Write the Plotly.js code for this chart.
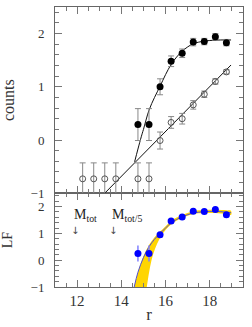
<!DOCTYPE html>
<html>
<head>
<meta charset="utf-8">
<script src="https://cdn.plot.ly/plotly-3.0.1.min.js"></script>
<style>html,body{margin:0;padding:0;background:#fff}#chart{width:252px;height:327px}</style>
</head>
<body>
<div id="chart"></div>
<script>
// ---- data ----
var rBins = [14.75, 15.25, 15.75, 16.25, 16.75, 17.25, 17.75, 18.25, 18.75];
var countsFilled = [0.29, 0.29, 1.00, 1.48, 1.63, 1.84, 1.85, 1.94, 1.83];
var countsFilledErr = [0.30, 0.30, 0.15, 0.10, 0.08, 0.07, 0.06, 0.06, 0.06];

var rOpen = [12.25, 12.75, 13.25, 13.75, 14.75, 15.25, 15.75, 16.25, 16.75, 17.25, 17.75, 18.25, 18.75];
var countsOpen = [-0.73, -0.73, -0.73, -0.73, -0.73, -0.73, -0.01, 0.33, 0.40, 0.66, 0.86, 1.10, 1.28];
var countsOpenErr = [0.30, 0.30, 0.30, 0.30, 0.30, 0.30, 0.16, 0.11, 0.10, 0.08, 0.06, 0.05, 0.04];

var rFitLine = [13.25, 18.96];
var countsFitLine = [-1.0, 1.41];

var rFitCurve = [14.6, 14.75, 14.9, 15.0, 15.25, 15.5, 15.75, 16.0, 16.25, 16.5, 16.75, 17.0, 17.25, 17.5, 17.75, 18.0, 18.5, 18.96];
var countsFitCurve = [-0.41, -0.17, 0.06, 0.20, 0.56, 0.80, 1.01, 1.23, 1.42, 1.56, 1.67, 1.75, 1.81, 1.84, 1.86, 1.87, 1.88, 1.88];

var lf = [0.25, 0.25, 0.95, 1.46, 1.61, 1.83, 1.82, 1.89, 1.70];
var lfErr = [0.30, 0.30, 0.08, 0.06, 0.05, 0.04, 0.04, 0.04, 0.04];

var rLfFit = [14.58, 14.75, 15.0, 15.25, 15.5, 15.75, 16.0, 16.25, 16.5, 16.75, 17.0, 17.25, 17.5, 17.75, 18.0, 18.25, 18.5, 18.75, 18.96];
var lfFit = [-1.0, -0.45, 0.10, 0.50, 0.78, 1.00, 1.20, 1.39, 1.52, 1.62, 1.70, 1.76, 1.79, 1.81, 1.82, 1.82, 1.81, 1.79, 1.77];

var rBandHi = [14.58, 14.75, 15.0, 15.25, 15.5, 15.75, 16.0, 16.25, 16.5, 16.75, 17.25, 17.75, 18.25, 18.75, 18.96];
var lfBandHi = [-1.0, -0.45, 0.15, 0.57, 0.86, 1.07, 1.27, 1.46, 1.59, 1.69, 1.83, 1.87, 1.88, 1.86, 1.84];
var rBandLo = [18.96, 18.75, 18.25, 17.75, 17.25, 16.75, 16.25, 15.83, 15.43, 15.15];
var lfBandLo = [1.69, 1.72, 1.76, 1.76, 1.72, 1.57, 1.33, 0.94, 0.20, -1.0];

var xTickVals = [12, 14, 16, 18];
var xTickText = ['12', '14', '16', '18'];
var yTickVals = [-1, 0, 1, 2];
var yTickText = ['\u22121', '0', '1', '2'];

var marks = [
  {x: 11.78, y: 1.66, text: 'M<sub>tot</sub>'},
  {x: 13.50, y: 1.66, text: 'M<sub>tot/5</sub>'}
];
var arrowsX = [11.92, 13.64];

// ---- styles ----
var serif = 'Liberation Serif, Times New Roman, serif';
var axisCommon = {
  showgrid: false, zeroline: false, showline: true, linecolor: '#666', linewidth: 1,
  mirror: 'allticks', ticks: 'inside', tickcolor: '#777', tickwidth: 1
};
function xAxis(extra) {
  return Object.assign({}, axisCommon, {
    range: [11, 19.5], tickmode: 'array', tickvals: xTickVals, ticktext: xTickText, ticklen: 7,
    minor: {dtick: 0.5, tick0: 0, ticklen: 4, ticks: 'inside', tickcolor: '#777'},
    tickfont: {family: serif, size: 15, color: '#333'}
  }, extra);
}
function yAxis(extra) {
  return Object.assign({}, axisCommon, {
    range: [-1, 2.5], tickmode: 'array', tickvals: yTickVals, ticktext: yTickText, ticklen: 7,
    minor: {dtick: 0.2, tick0: 0, ticklen: 4, ticks: 'inside', tickcolor: '#777'},
    tickfont: {family: serif, size: 13, color: '#333'}, ticklabelstandoff: 7
  }, extra);
}

var traces = [
  // top panel
  {x: rFitLine, y: countsFitLine, mode: 'lines', line: {color: '#111', width: 1}, xaxis: 'x2', yaxis: 'y2', hoverinfo: 'skip'},
  {x: rFitCurve, y: countsFitCurve, mode: 'lines', line: {color: '#111', width: 1, shape: 'spline'}, xaxis: 'x2', yaxis: 'y2', hoverinfo: 'skip'},
  {x: rOpen, y: countsOpen, mode: 'markers', xaxis: 'x2', yaxis: 'y2',
   marker: {symbol: 'circle-open', size: 6, color: '#555', line: {width: 1, color: '#555'}},
   error_y: {type: 'data', array: countsOpenErr, color: '#888', thickness: 1, width: 3}},
  {x: rBins, y: countsFilled, mode: 'markers', xaxis: 'x2', yaxis: 'y2',
   marker: {symbol: 'circle', size: 7, color: '#000'},
   error_y: {type: 'data', array: countsFilledErr, color: '#888', thickness: 1, width: 3}},
  // bottom panel
  {x: rBandHi.concat(rBandLo), y: lfBandHi.concat(lfBandLo), mode: 'lines', fill: 'toself',
   fillcolor: '#ffd500', line: {width: 0, color: '#ffd500', shape: 'spline'}, xaxis: 'x', yaxis: 'y', hoverinfo: 'skip'},
  {x: rLfFit, y: lfFit, mode: 'lines', line: {color: '#5050d0', width: 1, shape: 'spline'}, xaxis: 'x', yaxis: 'y', hoverinfo: 'skip'},
  {x: rBins, y: lf, mode: 'markers', xaxis: 'x', yaxis: 'y',
   marker: {symbol: 'circle', size: 7, color: '#0000ff'},
   error_y: {type: 'data', array: lfErr, color: '#8080ff', thickness: 1.5, width: 0}}
];

var annotations = [];
marks.forEach(function (m) {
  annotations.push({x: m.x, y: m.y, xref: 'x', yref: 'y', text: m.text, showarrow: false,
    xanchor: 'left', yanchor: 'middle', font: {family: serif, size: 14, color: '#222'}});
});
arrowsX.forEach(function (ax) {
  annotations.push({x: ax, y: 1.12, xref: 'x', yref: 'y', text: '\u2193', showarrow: false,
    xanchor: 'center', yanchor: 'middle', font: {family: 'DejaVu Sans, sans-serif', size: 10, color: '#444'}});
});

var layout = {
  width: 252, height: 327,
  margin: {l: 55, r: 9, t: 7, b: 40},
  paper_bgcolor: '#fff', plot_bgcolor: '#fff',
  showlegend: false,
  xaxis: xAxis({anchor: 'y', domain: [0, 1],
    title: {text: 'r', font: {family: serif, size: 17, color: '#333'}, standoff: 0}}),
  yaxis: yAxis({anchor: 'x', domain: [0, 0.335],
    title: {text: 'LF', font: {family: serif, size: 14, color: '#333'}, standoff: 14}}),
  xaxis2: xAxis({anchor: 'y2', domain: [0, 1], showticklabels: false, matches: 'x'}),
  yaxis2: yAxis({anchor: 'x2', domain: [0.335, 1],
    title: {text: 'counts', font: {family: serif, size: 16, color: '#333'}, standoff: 14}}),
  annotations: annotations
};

Plotly.newPlot('chart', traces, layout, {staticPlot: true, displayModeBar: false});
</script>
</body>
</html>
